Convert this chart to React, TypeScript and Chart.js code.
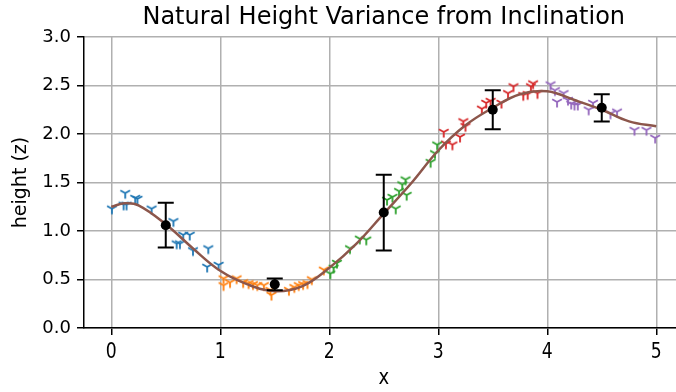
import React, { useEffect, useRef } from "react";
import { Chart, registerables } from "chart.js";
Chart.register(...registerables);

const TITLE = "Natural Height Variance from Inclination";
const X_LABEL = "x";
const Y_LABEL = "height (z)";
const X_TICKS = [0, 1, 2, 3, 4, 5];
const Y_TICKS = [0, 0.5, 1, 1.5, 2, 2.5, 3];

const blueX = [0.006, 0.128, 0.113, 0.14, 0.22, 0.24, 0.37, 0.57, 0.66, 0.72, 0.6, 0.63, 0.75, 0.89, 0.88, 0.985];
const blueY = [1.23, 1.39, 1.27, 1.27, 1.34, 1.33, 1.23, 1.1, 0.96, 0.96, 0.87, 0.87, 0.8, 0.82, 0.63, 0.65];

const orangeX = [1.03, 1.03, 1.09, 1.15, 1.21, 1.26, 1.3, 1.34, 1.4, 1.46, 1.47, 1.63, 1.68, 1.72, 1.76, 1.8, 1.84, 1.95];
const orangeY = [0.51, 0.44, 0.47, 0.51, 0.47, 0.46, 0.45, 0.44, 0.44, 0.39, 0.34, 0.39, 0.42, 0.44, 0.45, 0.46, 0.5, 0.6];

const greenX = [2.01, 2.04, 2.07, 2.19, 2.28, 2.34, 2.53, 2.58, 2.61, 2.64, 2.67, 2.7, 2.71, 2.93, 2.97, 2.99];
const greenY = [0.56, 0.62, 0.67, 0.82, 0.92, 0.91, 1.32, 1.35, 1.23, 1.41, 1.48, 1.53, 1.37, 1.71, 1.8, 1.89];

const redX = [3.05, 3.07, 3.13, 3.2, 3.23, 3.25, 3.4, 3.44, 3.48, 3.58, 3.64, 3.69, 3.78, 3.82, 3.85, 3.87, 3.91];
const redY = [2.02, 1.9, 1.89, 1.97, 2.13, 2.08, 2.26, 2.32, 2.34, 2.32, 2.42, 2.49, 2.4, 2.41, 2.49, 2.52, 2.42];

const purpleX = [4.03, 4.07, 4.09, 4.15, 4.19, 4.22, 4.25, 4.28, 4.38, 4.42, 4.58, 4.64, 4.8, 4.91, 4.99];
const purpleY = [2.51, 2.45, 2.33, 2.42, 2.35, 2.31, 2.3, 2.3, 2.25, 2.32, 2.21, 2.23, 2.04, 2.04, 1.96];

const curveX = [0, 0.125, 0.25, 0.5, 0.75, 1, 1.25, 1.5, 1.75, 2, 2.25, 2.5, 2.75, 3, 3.25, 3.5, 3.75, 4, 4.25, 4.5, 4.75, 5];
const curveY = [1.25, 1.285, 1.265, 1.07, 0.82, 0.59, 0.45, 0.38, 0.43, 0.62, 0.87, 1.18, 1.49, 1.83, 2.09, 2.27, 2.41, 2.44, 2.35, 2.25, 2.13, 2.08];

const meanX = [0.5, 1.5, 2.5, 3.5, 4.5];
const meanY = [1.06, 0.45, 1.19, 2.25, 2.27];
const meanErr = [0.23, 0.06, 0.39, 0.2, 0.14];

const COLORS = {
  blue: "#1f77b4",
  orange: "#ff7f0e",
  green: "#2ca02c",
  red: "#d62728",
  purple: "#9467bd",
  brown: "#8c564b",
};

function triDown(color: string): HTMLCanvasElement {
  const s = 16;
  const c = s / 2;
  const r = 5.6;
  const cv = document.createElement("canvas");
  cv.width = s;
  cv.height = s;
  const g = cv.getContext("2d")!;
  g.strokeStyle = color;
  g.lineWidth = 1.8;
  g.beginPath();
  g.moveTo(c, c);
  g.lineTo(c, c + r);
  g.moveTo(c, c);
  g.lineTo(c - r * 0.866, c - r * 0.5);
  g.moveTo(c, c);
  g.lineTo(c + r * 0.866, c - r * 0.5);
  g.stroke();
  return cv;
}

const zip = (xs: number[], ys: number[]) => xs.map((x, i) => ({ x, y: ys[i] }));

const errorBarPlugin = {
  id: "errbars",
  afterDatasetsDraw(chart: any) {
    const { ctx, scales } = chart;
    const xs = scales.x;
    const ys = scales.y;
    ctx.save();
    ctx.strokeStyle = "#000";
    ctx.lineWidth = 2;
    meanX.forEach((mx, i) => {
      const px = xs.getPixelForValue(mx);
      const top = ys.getPixelForValue(meanY[i] + meanErr[i]);
      const bot = ys.getPixelForValue(meanY[i] - meanErr[i]);
      ctx.beginPath();
      ctx.moveTo(px, top);
      ctx.lineTo(px, bot);
      ctx.moveTo(px - 8, top);
      ctx.lineTo(px + 8, top);
      ctx.moveTo(px - 8, bot);
      ctx.lineTo(px + 8, bot);
      ctx.stroke();
      ctx.fillStyle = "#000";
      ctx.beginPath();
      ctx.arc(px, ys.getPixelForValue(meanY[i]), 5, 0, Math.PI * 2);
      ctx.fill();
    });
    ctx.restore();
  },
};

// Title and the (narrow-looking) x-axis texts
const textPlugin = {
  id: "texts",
  afterDraw(chart: any) {
    const { ctx, chartArea, scales } = chart;
    ctx.save();
    ctx.fillStyle = "#000";
    ctx.textAlign = "center";
    ctx.textBaseline = "middle";
    ctx.font = '24px "DejaVu Sans"';
    ctx.fillText(TITLE, (chartArea.left + chartArea.right) / 2, chartArea.top / 2 - 1);

    ctx.textBaseline = "alphabetic";
    ctx.font = '20.5px "DejaVu Sans"';
    scales.x.ticks.forEach((t: any) => {
      const px = scales.x.getPixelForValue(t.value);
      ctx.save();
      ctx.translate(px, chartArea.bottom + 30);
      ctx.scale(0.84, 1);
      ctx.fillText(String(t.value), 0, 0);
      ctx.restore();
    });
    ctx.save();
    ctx.font = '20.5px "DejaVu Sans"';
    ctx.translate((chartArea.left + chartArea.right) / 2, chartArea.bottom + 56);
    ctx.scale(0.88, 1);
    ctx.fillText(X_LABEL, 0, 0);
    ctx.restore();
    ctx.restore();
  },
};

export default function App() {
  const ref = useRef<HTMLCanvasElement>(null);
  useEffect(() => {
    if (!ref.current) return;
    const scatterDs = (xs: number[], ys: number[], color: string) => ({
      type: "scatter" as const,
      data: zip(xs, ys),
      pointStyle: triDown(color),
      pointRadius: 5,
      pointHoverRadius: 5,
      borderColor: color,
      backgroundColor: color,
      showLine: false,
      order: 3,
    });
    const chart = new Chart(ref.current, {
      type: "scatter",
      data: {
        datasets: [
          {
            type: "scatter",
            data: zip(curveX, curveY),
            showLine: true,
            borderColor: COLORS.brown,
            borderWidth: 2.5,
            pointRadius: 0,
            tension: 0.4,
            order: 1,
          } as any,
          scatterDs(blueX, blueY, COLORS.blue),
          scatterDs(orangeX, orangeY, COLORS.orange),
          scatterDs(greenX, greenY, COLORS.green),
          scatterDs(redX, redY, COLORS.red),
          scatterDs(purpleX, purpleY, COLORS.purple),
        ],
      },
      options: {
        animation: false,
        responsive: false,
        devicePixelRatio: 1,
        layout: { padding: { top: 37, left: 0, right: 16.5, bottom: 0 } },
        plugins: { legend: { display: false }, tooltip: { enabled: false }, title: { display: false } },
        scales: {
          x: {
            type: "linear",
            min: -0.25,
            max: 5.25,
            afterBuildTicks: (s: any) => {
              s.ticks = X_TICKS.map((v) => ({ value: v }));
            },
            afterFit: (s: any) => {
              s.height = 64;
            },
            grid: { color: "#b0b0b0", lineWidth: 1.5, tickColor: "#000", tickLength: 7, tickWidth: 1.5 },
            border: { color: "#000", width: 1.5 },
            ticks: { display: false },
            title: { display: false },
          },
          y: {
            type: "linear",
            min: 0,
            max: 3,
            afterBuildTicks: (s: any) => {
              s.ticks = Y_TICKS.map((v) => ({ value: v }));
            },
            afterFit: (s: any) => {
              s.width = 84;
            },
            grid: { color: "#b0b0b0", lineWidth: 1.5, tickColor: "#000", tickLength: 7, tickWidth: 1.5 },
            border: { color: "#000", width: 1.5 },
            ticks: {
              font: { family: '"DejaVu Sans"', size: 18 },
              color: "#000",
              padding: 6,
              callback: (v: any) => Number(v).toFixed(1),
            },
            title: {
              display: true,
              text: Y_LABEL,
              color: "#000",
              font: { family: '"DejaVu Sans"', size: 19, lineHeight: 2.2 },
              padding: 0,
            },
          },
        },
      },
      plugins: [errorBarPlugin, textPlugin],
    } as any);
    return () => chart.destroy();
  }, []);
  return (
    <div style={{ position: "fixed", left: 0, top: 0, width: 676, height: 392, overflow: "hidden", background: "#fff" }}>
      <canvas ref={ref} width={700} height={392} style={{ display: "block", width: 700, height: 392 }} />
    </div>
  );
}
